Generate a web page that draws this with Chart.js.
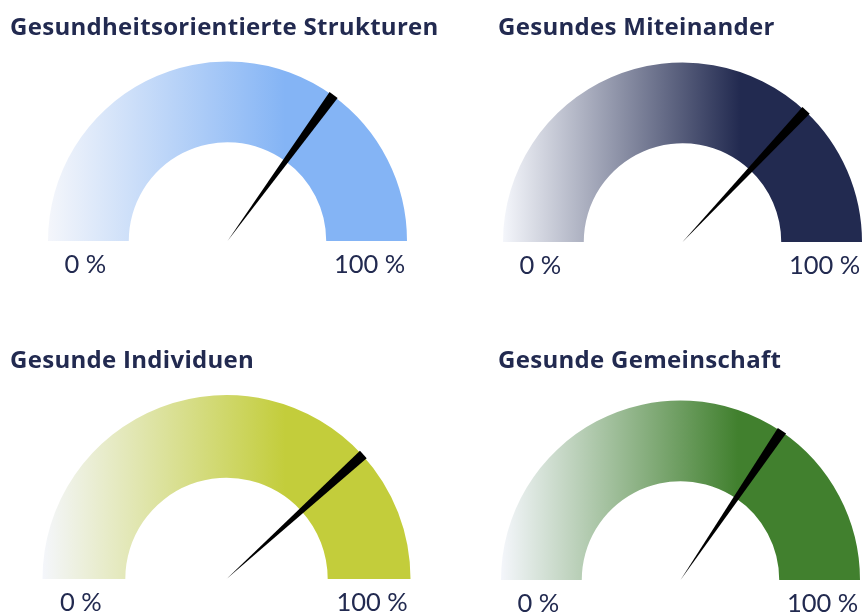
<!DOCTYPE html>
<html><head><meta charset="utf-8">
<script src="https://cdn.jsdelivr.net/npm/chart.js@4.4.1/dist/chart.umd.min.js"></script>
<style>
html,body{margin:0;padding:0;background:#fff;}
#wrap{position:relative;width:863px;height:615px;overflow:hidden;background:#fff;}
#wrap canvas{position:absolute;}
</style></head><body><div id="wrap"></div>
<script>
// ---- data ----
const titles = ['Gesundheitsorientierte Strukturen', 'Gesundes Miteinander', 'Gesunde Individuen', 'Gesunde Gemeinschaft'];
const values = [70, 74, 76.5, 69];
const scaleMin = 0;
const scaleMax = 100;
const tickLabels = ['0 %', '100 %'];

// ---- style / layout ----
const colors = ['#84b4f5', '#222a50', '#c3cd3b', '#41802e'];
const gradStart = '#f4f6fb';
const textColor = '#222a50';
const layouts = [
  {left: 0,   top: 0,   w: 470, h: 300, cx: 227.5, base: 241, R: 179.5, tx: 10,  ty: 35},
  {left: 432, top: 0,   w: 431, h: 300, cx: 682.5, base: 242, R: 179.5, tx: 498, ty: 35},
  {left: 0,   top: 315, w: 470, h: 300, cx: 226.5, base: 579, R: 184,   tx: 10,  ty: 368},
  {left: 432, top: 315, w: 431, h: 300, cx: 680.5, base: 580, R: 179.5, tx: 498, ty: 368}
];

const gaugePlugin = {
  id: 'gaugeDecor',
  afterDatasetsDraw(chart, args, opts) {
    const ctx = chart.ctx;
    const arc = chart.getDatasetMeta(0).data[0];
    const p = arc.getProps(['x', 'y', 'outerRadius', 'innerRadius', 'endAngle'], true);
    const ux = Math.cos(p.endAngle), uy = Math.sin(p.endAngle);
    const nx = -uy, ny = ux;
    const L = p.outerRadius + 1, hw = 5;
    ctx.save();
    ctx.beginPath();
    ctx.moveTo(p.x, p.y);
    ctx.lineTo(p.x + ux * L + nx * hw, p.y + uy * L + ny * hw);
    ctx.lineTo(p.x + ux * L - nx * hw, p.y + uy * L - ny * hw);
    ctx.closePath();
    ctx.fillStyle = '#000';
    ctx.fill();

    ctx.fillStyle = textColor;
    ctx.font = '25.5px Lato';
    ctx.textAlign = 'center';
    ctx.textBaseline = 'alphabetic';
    const mid = (p.outerRadius + p.innerRadius) / 2;
    ctx.fillText(tickLabels[0], p.x - mid - 3, p.y + 32);
    ctx.fillText(tickLabels[1], p.x + mid + 3, p.y + 32);

    ctx.font = 'bold 24px "Open Sans"';
    ctx.letterSpacing = '0.3px';
    ctx.textAlign = 'left';
    ctx.fillText(opts.title, opts.tx, opts.ty);
    ctx.restore();
  }
};

const wrap = document.getElementById('wrap');
titles.forEach((title, i) => {
  const L = layouts[i];
  const cv = document.createElement('canvas');
  cv.width = L.w; cv.height = L.h;
  cv.style.left = L.left + 'px'; cv.style.top = L.top + 'px';
  cv.style.width = L.w + 'px'; cv.style.height = L.h + 'px';
  wrap.appendChild(cv);
  const lcx = L.cx - L.left, lbase = L.base - L.top;
  const col = colors[i];
  const grad = (c) => {
    const ca = c.chart.chartArea;
    if (!ca) return col;
    const g = c.chart.ctx.createLinearGradient(ca.left, 0, ca.right, 0);
    g.addColorStop(0, gradStart);
    g.addColorStop(0.66, col);
    g.addColorStop(1, col);
    return g;
  };
  new Chart(cv, {
    type: 'doughnut',
    data: {
      labels: ['Wert', 'Rest'],
      datasets: [{
        data: [values[i] - scaleMin, scaleMax - values[i]],
        backgroundColor: grad,
        borderWidth: 0,
        hoverOffset: 0
      }]
    },
    options: {
      responsive: false,
      animation: false,
      events: [],
      rotation: -90,
      circumference: 180,
      cutout: '55%',
      radius: L.R,
      layout: {
        padding: {
          left: lcx - L.R,
          right: L.w - (lcx + L.R),
          top: lbase - L.R,
          bottom: L.h - lbase
        }
      },
      plugins: {
        legend: {display: false},
        tooltip: {enabled: false},
        title: {display: false},
        gaugeDecor: {title: title, tx: L.tx - L.left, ty: L.ty - L.top}
      }
    },
    plugins: [gaugePlugin]
  });
});
</script>
</body></html>
